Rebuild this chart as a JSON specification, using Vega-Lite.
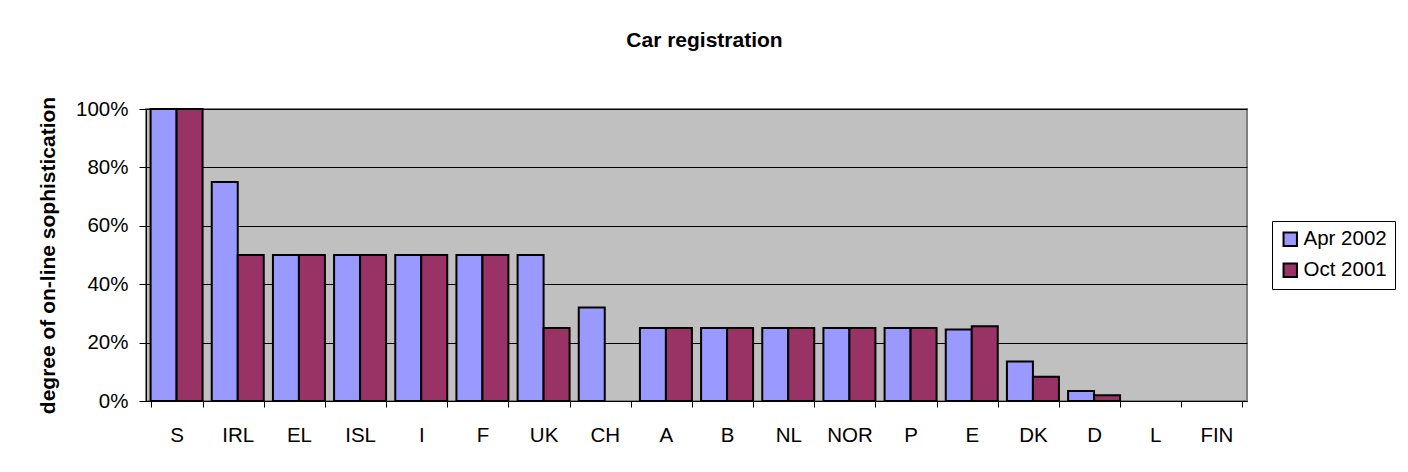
{
  "$schema": "https://vega.github.io/schema/vega-lite/v6.json",
  "width": 1101,
  "height": 292,
  "autosize": {"type": "none"},
  "padding": {"left": 146, "top": 109, "right": 161, "bottom": 71},
  "background": "white",
  "title": {
    "text": "Car registration",
    "font": "Liberation Sans",
    "fontSize": 21,
    "fontWeight": "bold",
    "color": "black",
    "anchor": "middle",
    "frame": "group",
    "dx": 8,
    "offset": 45
  },
  "data": {
    "values": [
      {"country": "S", "period": "Apr 2002", "value": 1.0},
      {"country": "S", "period": "Oct 2001", "value": 1.0},
      {"country": "IRL", "period": "Apr 2002", "value": 0.75},
      {"country": "IRL", "period": "Oct 2001", "value": 0.5},
      {"country": "EL", "period": "Apr 2002", "value": 0.5},
      {"country": "EL", "period": "Oct 2001", "value": 0.5},
      {"country": "ISL", "period": "Apr 2002", "value": 0.5},
      {"country": "ISL", "period": "Oct 2001", "value": 0.5},
      {"country": "I", "period": "Apr 2002", "value": 0.5},
      {"country": "I", "period": "Oct 2001", "value": 0.5},
      {"country": "F", "period": "Apr 2002", "value": 0.5},
      {"country": "F", "period": "Oct 2001", "value": 0.5},
      {"country": "UK", "period": "Apr 2002", "value": 0.5},
      {"country": "UK", "period": "Oct 2001", "value": 0.25},
      {"country": "CH", "period": "Apr 2002", "value": 0.32},
      {"country": "CH", "period": "Oct 2001", "value": 0},
      {"country": "A", "period": "Apr 2002", "value": 0.25},
      {"country": "A", "period": "Oct 2001", "value": 0.25},
      {"country": "B", "period": "Apr 2002", "value": 0.25},
      {"country": "B", "period": "Oct 2001", "value": 0.25},
      {"country": "NL", "period": "Apr 2002", "value": 0.25},
      {"country": "NL", "period": "Oct 2001", "value": 0.25},
      {"country": "NOR", "period": "Apr 2002", "value": 0.25},
      {"country": "NOR", "period": "Oct 2001", "value": 0.25},
      {"country": "P", "period": "Apr 2002", "value": 0.25},
      {"country": "P", "period": "Oct 2001", "value": 0.25},
      {"country": "E", "period": "Apr 2002", "value": 0.245},
      {"country": "E", "period": "Oct 2001", "value": 0.256},
      {"country": "DK", "period": "Apr 2002", "value": 0.135},
      {"country": "DK", "period": "Oct 2001", "value": 0.083},
      {"country": "D", "period": "Apr 2002", "value": 0.034},
      {"country": "D", "period": "Oct 2001", "value": 0.02},
      {"country": "L", "period": "Apr 2002", "value": 0},
      {"country": "L", "period": "Oct 2001", "value": 0},
      {"country": "FIN", "period": "Apr 2002", "value": 0},
      {"country": "FIN", "period": "Oct 2001", "value": 0}
    ]
  },
  "mark": {"type": "bar", "stroke": "black"},
  "encoding": {
    "x": {
      "field": "country",
      "type": "nominal",
      "sort": ["S","IRL","EL","ISL","I","F","UK","CH","A","B","NL","NOR","P","E","DK","D","L","FIN"],
      "scale": {"paddingInner": 0.15, "paddingOuter": 0.075},
      "axis": {
        "title": null,
        "labelAngle": 0,
        "tickBand": "extent",
        "tickSize": 6,
        "tickColor": "black",
        "domainColor": "black",
        "labelFont": "Liberation Sans",
        "labelFontSize": 20.5,
        "labelColor": "black",
        "labelPadding": 18,
        "grid": false
      }
    },
    "xOffset": {"field": "period", "type": "nominal", "sort": ["Apr 2002", "Oct 2001"]},
    "y": {
      "field": "value",
      "type": "quantitative",
      "scale": {"domain": [0, 1], "nice": false},
      "axis": {
        "title": "degree of on-line sophistication",
        "titleFont": "Liberation Sans",
        "titleFontSize": 21,
        "titleFontWeight": "bold",
        "titleColor": "black",
        "titlePadding": 17,
        "values": [0, 0.2, 0.4, 0.6, 0.8, 1.0],
        "format": ".0%",
        "labelFont": "Liberation Sans",
        "labelFontSize": 20.5,
        "labelColor": "black",
        "labelPadding": 11,
        "tickSize": 7,
        "tickColor": "black",
        "domainColor": "black",
        "grid": true,
        "gridColor": "black",
        "gridWidth": 1,
        "gridOpacity": 1
      }
    },
    "strokeWidth": {
      "condition": {"test": "datum.value <= 0", "value": 0},
      "value": 2
    },
    "fill": {
      "field": "period",
      "type": "nominal",
      "sort": ["Apr 2002", "Oct 2001"],
      "scale": {"domain": ["Apr 2002", "Oct 2001"], "range": ["#9999FF", "#993366"]},
      "legend": {
        "title": null,
        "orient": "none",
        "legendX": 1126,
        "legendY": 112,
        "symbolType": "square",
        "symbolSize": 180,
        "symbolStrokeColor": "black",
        "symbolStrokeWidth": 2,
        "symbolOpacity": 1,
        "labelFont": "Liberation Sans",
        "labelFontSize": 20.5,
        "labelColor": "black",
        "labelOffset": 3,
        "rowPadding": 9,
        "padding": 8,
        "strokeColor": "black",
        "fillColor": "white"
      }
    }
  },
  "config": {
    "view": {"fill": "#C0C0C0", "stroke": "#808080", "strokeWidth": 2},
    "legend": {"strokeWidth": 1}
  }
}
